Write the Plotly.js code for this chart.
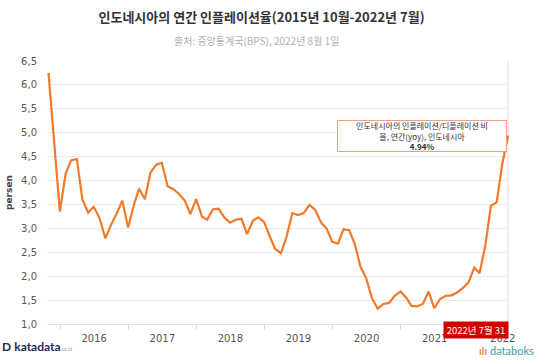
<!DOCTYPE html>
<html>
<head>
<meta charset="utf-8">
<script src="https://cdn.plot.ly/plotly-3.0.1.min.js"></script>
<style>
html,body{margin:0;padding:0;background:#fff;}
#chart{width:537px;height:360px;}
</style>
</head>
<body>
<div id="chart"></div>
<script>
// Monthly YoY inflation, Oct 2015 - Jul 2022 (points dated at month end)
const startYear = 2015, startMonth = 10;
const inflation = [
  6.25, 4.89, 3.35,
  4.14, 4.42, 4.45, 3.60, 3.33, 3.45, 3.21, 2.79, 3.07, 3.31, 3.58, 3.02,
  3.49, 3.83, 3.61, 4.17, 4.33, 4.37, 3.88, 3.82, 3.72, 3.58, 3.30, 3.61,
  3.25, 3.18, 3.40, 3.41, 3.23, 3.12, 3.18, 3.20, 2.88, 3.16, 3.23, 3.13,
  2.82, 2.57, 2.48, 2.83, 3.32, 3.28, 3.32, 3.49, 3.39, 3.13, 3.00, 2.72,
  2.68, 2.98, 2.96, 2.67, 2.19, 1.96, 1.54, 1.32, 1.42, 1.44, 1.59, 1.68,
  1.55, 1.38, 1.37, 1.42, 1.68, 1.33, 1.52, 1.59, 1.60, 1.66, 1.75, 1.87,
  2.18, 2.06, 2.64, 3.47, 3.55, 4.35, 4.94
];
const yTicks = [1.0, 1.5, 2.0, 2.5, 3.0, 3.5, 4.0, 4.5, 5.0, 5.5, 6.0, 6.5];

const pad = n => (n < 10 ? '0' : '') + n;
const dates = inflation.map((_, i) => {
  const m0 = (startMonth - 1) + i;
  const y = startYear + Math.floor(m0 / 12);
  const m = (m0 % 12) + 1;
  const last = new Date(Date.UTC(y, m, 0)).getUTCDate();
  return y + '-' + pad(m) + '-' + pad(last);
});
const lastDate = dates[dates.length - 1];
const lastVal = inflation[inflation.length - 1];

const trace = {
  x: dates, y: inflation, type: 'scatter', mode: 'lines',
  line: {color: '#f07a2c', width: 2.2},
  hoverinfo: 'skip'
};

const layout = {
  width: 537, height: 360,
  margin: {l: 47, r: 28, t: 61, b: 36},
  paper_bgcolor: '#ffffff', plot_bgcolor: '#ffffff',
  separators: ', ',
  showlegend: false,
  font: {family: 'Noto Sans CJK KR, Noto Sans, sans-serif'},
  title: {
    text: '<b>인도네시아의 연간 인플레이션율(2015년 10월-2022년 7월)</b>',
    font: {size: 13, color: '#333333', family: 'Noto Sans CJK KR, sans-serif'},
    xref: 'container', x: 0.487, xanchor: 'center',
    yref: 'container', y: 1 - 17/360, yanchor: 'middle'
  },
  xaxis: {
    type: 'date',
    range: ['2015-10-23', '2022-08-05'],
    tick0: '2016-01-01', dtick: 'M12',
    ticklabelmode: 'period',
    tickformat: '%Y',
    ticks: 'outside', ticklen: 5, tickcolor: '#dddddd', tickwidth: 1,
    showgrid: false, zeroline: false,
    showline: true, linecolor: '#dfe3ea', linewidth: 1,
    tickfont: {size: 10, color: '#555555', family: 'DejaVu Sans, sans-serif'},
    fixedrange: true
  },
  yaxis: {
    range: [1, 6.5],
    tickvals: yTicks,
    tickformat: '.1f',
    showgrid: true, gridcolor: '#ececec', gridwidth: 1,
    zeroline: false, showline: false,
    ticks: '', ticklabelstandoff: 9,
    tickfont: {size: 10, color: '#555555', family: 'DejaVu Sans, sans-serif'},
    title: {text: '<b>persen</b>', font: {size: 9, color: '#444444', family: 'DejaVu Sans, sans-serif'}, standoff: 6},
    fixedrange: true
  },
  shapes: [
    {type: 'line', xref: 'x', yref: 'paper', x0: lastDate, x1: lastDate, y0: 0, y1: 1,
     line: {color: '#f1e6e6', width: 1.5}, layer: 'below'}
  ],
  annotations: [
    {text: '출처: 중앙통계국(BPS), 2022년 8월 1일', xref: 'paper', yref: 'paper',
     x: (256 - 47) / 462, y: (324 - 40) / 263, xanchor: 'center', yanchor: 'middle',
     showarrow: false, font: {size: 10, color: '#b0b0b0', family: 'Noto Sans CJK KR, sans-serif'}},
    {text: '인도네시아의 인플레이션/디플레이션 비<br>율, 연간(yoy), 인도네시아<br><b>4.94%</b>',
     xref: 'x', yref: 'y', x: lastDate, y: lastVal, xanchor: 'right', yanchor: 'middle', xshift: -1,
     showarrow: false, align: 'center', width: 166, height: 28,
     bgcolor: '#ffffff', bordercolor: '#f3a072', borderwidth: 1, borderpad: 1,
     font: {size: 8, color: '#333333', family: 'Noto Sans CJK KR, sans-serif'}},
    {text: '2022년 7월 31', xref: 'paper', yref: 'paper',
     x: (475.5 - 47) / 462, y: (324 - 330) / 263, xanchor: 'center', yanchor: 'middle',
     showarrow: false, bgcolor: '#d30000', borderpad: 1, width: 62,
     font: {size: 9.5, color: '#ffffff', family: 'Noto Sans CJK KR, sans-serif'}},
    {text: '<b>D</b> <b>katadata</b><span style="font-size:5px;color:#9aa3b5">.co.id</span>', xref: 'paper', yref: 'paper',
     x: (0 - 47) / 462, y: (324 - 346) / 263, xanchor: 'left', yanchor: 'middle',
     showarrow: false, font: {size: 12, color: '#1d2b57', family: 'Lato, DejaVu Sans, sans-serif'}},
    {text: '<span style="color:#e8642c">ıIı</span> databoks', xref: 'paper', yref: 'paper',
     x: (536 - 47) / 462, y: (324 - 350) / 263, xanchor: 'right', yanchor: 'middle',
     showarrow: false, font: {size: 11, color: '#3a9ea5', family: 'Lato, DejaVu Sans, sans-serif'}}
  ]
};

Plotly.newPlot('chart', [trace], layout, {displayModeBar: false, staticPlot: true});
</script>
</body>
</html>
